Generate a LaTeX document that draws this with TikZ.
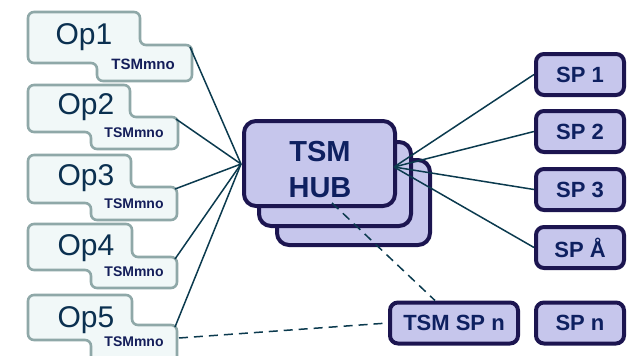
\documentclass[tikz,border=0pt]{standalone}
\usepackage{fontspec}
\setmainfont{Liberation Sans}
\definecolor{opline}{HTML}{8FA8A8}
\definecolor{opfill}{HTML}{F1F8F8}
\definecolor{optxt}{HTML}{0B3050}
\definecolor{tsmtxt}{HTML}{141E5A}
\definecolor{navy}{HTML}{1C1550}
\definecolor{lav}{HTML}{C6C6EC}
\definecolor{sptxt}{HTML}{0E2060}
\definecolor{linkc}{HTML}{0B3A4E}
\begin{document}
\begin{tikzpicture}[x=1pt,y=-1pt,
  opshape/.style={draw=opline, fill=opfill, line width=2.6pt, rounded corners=6pt},
  optext/.style={text=optxt, font=\fontsize{30}{30}\selectfont, inner sep=0pt},
  tsmtext/.style={text=tsmtxt, font=\bfseries\fontsize{14}{14}\selectfont, inner sep=0pt},
  hubbox/.style={draw=navy, fill=lav, line width=4pt, rounded corners=12pt},
  spbox/.style={draw=navy, fill=lav, line width=4pt, rounded corners=8pt,
    minimum height=41pt, inner sep=0pt, text=sptxt,
    font=\bfseries\fontsize{22}{22}\selectfont},
  link/.style={draw=linkc, line width=1.5pt},
  dlink/.style={link, dash pattern=on 9pt off 6pt}]
\useasboundingbox (0,0) rectangle (633,356);

% operator boxes with their TSMmno tabs (outline starts mid-edge so every corner is rounded)
\draw[opshape] (80,12) -- (140,12) -- (140,45) -- (192,45) -- (192,81) -- (97,81) -- (97,63) -- (28,63) -- (28,12) -- cycle;
\node[optext] (op1) at (84,37) {Op1};
\node[tsmtext, font=\bfseries\fontsize{15}{15}\selectfont] (tsm1) at (143,64) {TSMmno};
\coordinate (op1e) at (190,47);

\draw[opshape] (80,85) -- (130,85) -- (130,117) -- (178,117) -- (178,149) -- (91,149) -- (91,132) -- (28,132) -- (28,85) -- cycle;
\node[optext] (op2) at (86,107) {Op2};
\node[tsmtext] (tsm2) at (134,133) {TSMmno};
\coordinate (op2e) at (176,119);

\draw[opshape] (80,155) -- (131,155) -- (131,187) -- (177,187) -- (177,220) -- (91,220) -- (91,203) -- (28,203) -- (28,155) -- cycle;
\node[optext] (op3) at (86,178) {Op3};
\node[tsmtext] (tsm3) at (134,204) {TSMmno};
\coordinate (op3e) at (175,189);

\draw[opshape] (80,224) -- (132,224) -- (132,257) -- (177,257) -- (177,288) -- (91,288) -- (91,270) -- (28,270) -- (28,224) -- cycle;
\node[optext] (op4) at (86,248) {Op4};
\node[tsmtext] (tsm4) at (134,272) {TSMmno};
\coordinate (op4e) at (175,259);

\draw[opshape] (80,295) -- (132,295) -- (132,325) -- (177,325) -- (177,362) -- (91,362) -- (91,340) -- (28,340) -- (28,295) -- cycle;
\node[optext] (op5) at (86,320) {Op5};
\node[tsmtext] (tsm5) at (134,342) {TSMmno};
\coordinate (op5e) at (175,327);
\coordinate (op5d) at (179,338);

% stacked hub boxes
\draw[hubbox] (277,160) rectangle (430,245);
\draw[hubbox] (259,142) rectangle (411,226);
\draw[hubbox] (244,121) rectangle (395,206);
\node[text=sptxt, font=\bfseries\fontsize{29}{36}\selectfont, align=center, inner sep=0pt] (hub) at (320,170) {TSM\\HUB};
\coordinate (hubL) at (241,164);
\coordinate (hubR) at (394,167);
\coordinate (hubD) at (332,203);

% service provider boxes
\node[spbox, minimum width=88pt] (sp1) at (580,74.5) {SP 1};
\node[spbox, minimum width=88pt] (sp2) at (580,131.5) {SP 2};
\node[spbox, minimum width=88pt] (sp3) at (580,189.5) {SP 3};
\node[spbox, minimum width=88pt] (spa) at (580,247.5) {SP Å};
\node[spbox, minimum width=88pt] (spn) at (580,323) {SP n};
\node[spbox, minimum width=128pt] (tsmspn) at (454,323) {TSM SP n};

% connectors
\foreach \o in {op1e,op2e,op3e,op4e,op5e}
  \draw[link] (\o) -- (hubL);
\foreach \s in {sp1,sp2,sp3,spa}
  \draw[link] (hubR) -- (\s.west);
\draw[dlink] (hubD) -- ([xshift=-19pt]tsmspn.north);
\draw[dlink] (op5d) -- (tsmspn.west);
\end{tikzpicture}
\end{document}
